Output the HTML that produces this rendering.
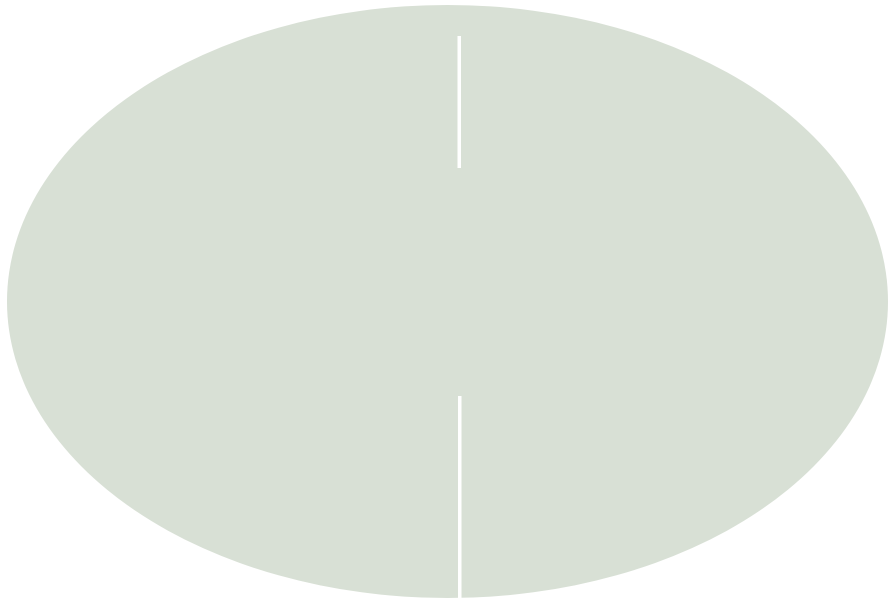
<!DOCTYPE html>
<html>
<head>
<meta charset="utf-8">
<style>
html,body{margin:0;padding:0;background:#fff;width:895px;height:604px;overflow:hidden;}
svg{display:block;}
</style>
</head>
<body>
<svg width="895" height="604" viewBox="0 0 895 604">
  <ellipse cx="447.5" cy="301.5" rx="440.5" ry="296.5" fill="#d8e0d5"/>
  <rect x="457.5" y="36" width="3.5" height="132" fill="#ffffff"/>
  <rect x="458" y="396" width="3.5" height="204" fill="#ffffff"/>
</svg>
</body>
</html>
